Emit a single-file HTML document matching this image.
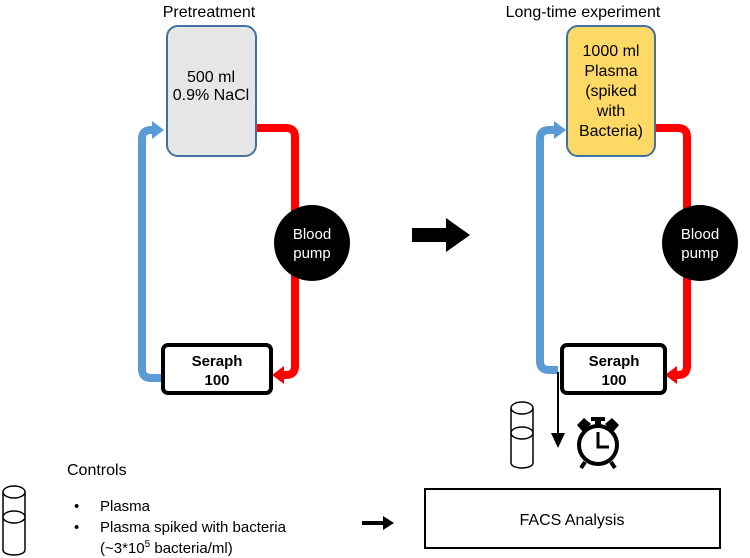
<!DOCTYPE html>
<html><head><style>body{margin:0;background:#fff}svg{display:block}text{font-family:"Liberation Sans",sans-serif}</style></head><body>
<svg width="750" height="558" viewBox="0 0 750 558" xmlns="http://www.w3.org/2000/svg">
<text x="209" y="17" font-size="16" text-anchor="middle">Pretreatment</text>
<text x="583" y="17" font-size="16" text-anchor="middle">Long-time experiment</text>
<!-- left loop -->
<path d="M256,128 H286 Q295,128 295,137 V366 Q295,375 286,375 H282" fill="none" stroke="#ff0000" stroke-width="8"/>
<path d="M284,366 L284,384 L272,375 Z" fill="#ff0000"/>
<path d="M162,378 H151 Q142,378 142,369 V139 Q142,130 151,130 H153" fill="none" stroke="#5b9bd5" stroke-width="8"/>
<path d="M152,121 L152,139 L164,130 Z" fill="#5b9bd5"/>
<rect x="167" y="26" width="89" height="130" rx="11" fill="#e6e6e6" stroke="#41719c" stroke-width="2"/>
<text x="211" y="82" font-size="16" text-anchor="middle">500 ml</text>
<text x="211" y="100" font-size="16" text-anchor="middle">0.9% NaCl</text>
<circle cx="312" cy="243" r="38" fill="#000"/>
<text x="312" y="239" font-size="15" fill="#fff" text-anchor="middle">Blood</text>
<text x="312" y="258" font-size="15" fill="#fff" text-anchor="middle">pump</text>
<rect x="163" y="345" width="108" height="48" rx="5" fill="#fff" stroke="#000" stroke-width="4"/>
<text x="217" y="366" font-size="15" font-weight="bold" text-anchor="middle">Seraph</text>
<text x="217" y="385" font-size="15" font-weight="bold" text-anchor="middle">100</text>
<!-- big arrow -->
<path d="M412,228 H446 V218 L470,235 L446,252 V242 H412 Z" fill="#000"/>
<!-- right loop -->
<path d="M655,128 H678 Q687,128 687,137 V366 Q687,375 678,375 H674" fill="none" stroke="#ff0000" stroke-width="8"/>
<path d="M677,366 L677,384 L665,375 Z" fill="#ff0000"/>
<path d="M558,370 H549 Q540,370 540,361 V139 Q540,130 549,130 H554" fill="none" stroke="#5b9bd5" stroke-width="8"/>
<path d="M554,121 L554,139 L566,130 Z" fill="#5b9bd5"/>
<rect x="567" y="26" width="88" height="130" rx="11" fill="#ffd966" stroke="#41719c" stroke-width="2"/>
<g font-size="16" text-anchor="middle"><text x="611" y="56">1000 ml</text><text x="611" y="76">Plasma</text><text x="611" y="96">(spiked</text><text x="611" y="116">with</text><text x="611" y="136">Bacteria)</text></g>
<circle cx="700" cy="243" r="38" fill="#000"/>
<text x="700" y="239" font-size="15" fill="#fff" text-anchor="middle">Blood</text>
<text x="700" y="258" font-size="15" fill="#fff" text-anchor="middle">pump</text>
<rect x="562" y="345" width="103" height="48" rx="5" fill="#fff" stroke="#000" stroke-width="4"/>
<text x="614" y="366" font-size="15" font-weight="bold" text-anchor="middle">Seraph</text>
<text x="614" y="385" font-size="15" font-weight="bold" text-anchor="middle">100</text>
<!-- down arrow -->
<line x1="558" y1="372" x2="558" y2="434" stroke="#000" stroke-width="2"/>
<path d="M551,433 L565,433 L558,448 Z" fill="#000"/>
<!-- tube right -->
<g fill="#fff" stroke="#000" stroke-width="1.5">
<path d="M511,408 V463 A11,5 0 0 0 533,463 V408"/>
<ellipse cx="522" cy="408" rx="11" ry="6"/>
<ellipse cx="522" cy="433" rx="11" ry="6"/>
</g>
<!-- clock -->
<g>
<circle cx="598" cy="445" r="19" fill="none" stroke="#000" stroke-width="4"/>
<path d="M598,432 V447 H609" fill="none" stroke="#000" stroke-width="3"/>
<path d="M577,425 L584,418 L591,424 L583,432 Z" fill="#000"/>
<path d="M619,425 L612,418 L605,424 L613,432 Z" fill="#000"/>
<rect x="595" y="419" width="6" height="8" fill="#000"/><rect x="591" y="417" width="14" height="4" fill="#000"/>
<line x1="585" y1="462" x2="581" y2="468" stroke="#000" stroke-width="4"/>
<line x1="611" y1="462" x2="615" y2="468" stroke="#000" stroke-width="4"/>
</g>
<!-- FACS -->
<rect x="425" y="489" width="295" height="59" fill="#fff" stroke="#000" stroke-width="2"/>
<text x="572" y="525" font-size="16" text-anchor="middle">FACS Analysis</text>
<path d="M362,521 H383 V516 L394,523 L383,530 V525 H362 Z" fill="#000"/>
<!-- controls -->
<text x="67" y="475" font-size="16">Controls</text>
<g font-size="15"><text x="74" y="511">•</text><text x="100" y="511">Plasma</text>
<text x="74" y="532">•</text><text x="100" y="532">Plasma spiked with bacteria</text>
<text x="100" y="553">(~3*10<tspan font-size="10" dy="-6">5</tspan><tspan dy="6"> bacteria/ml)</tspan></text></g>
<g fill="#fff" stroke="#000" stroke-width="1.5">
<path d="M3,492 V550 A11,5 0 0 0 25,550 V492"/>
<ellipse cx="14" cy="492" rx="11" ry="6"/>
<ellipse cx="14" cy="517" rx="11" ry="6"/>
</g>
</svg>
</body></html>
